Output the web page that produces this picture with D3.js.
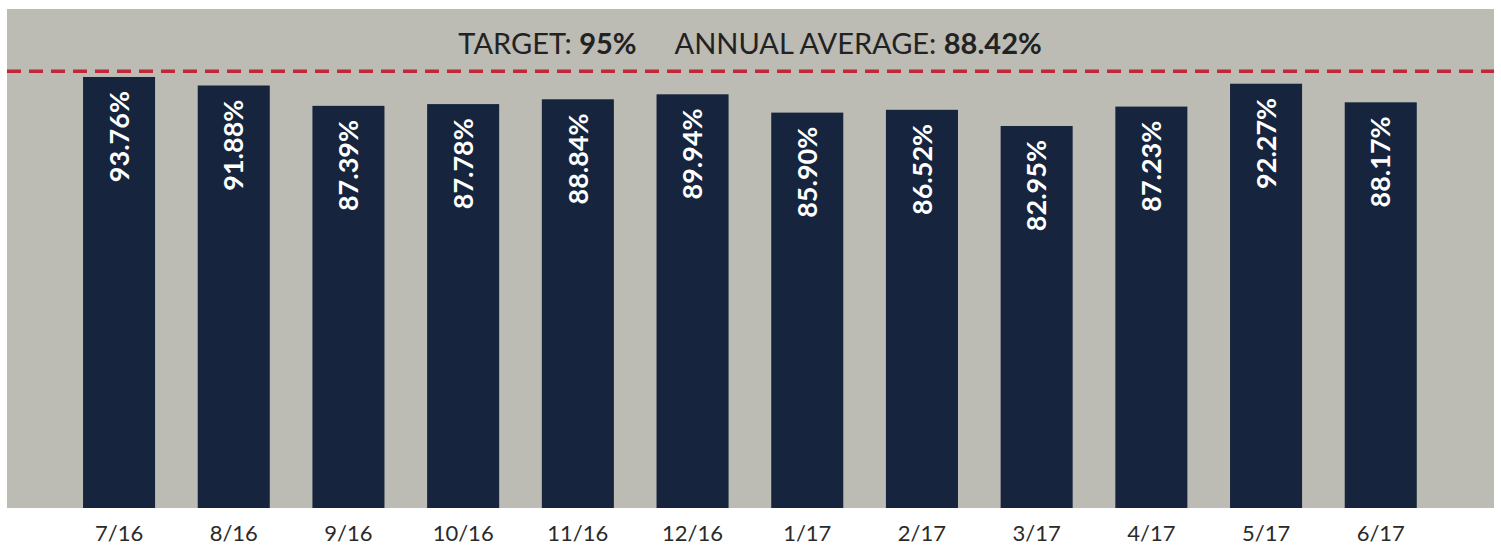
<!DOCTYPE html>
<html>
<head>
<meta charset="utf-8">
<script src="https://cdn.jsdelivr.net/npm/d3@7/dist/d3.min.js"></script>
<style>
  body { margin: 0; background: #fff; }
  svg { display: block; }
</style>
</head>
<body>
<div id="chart"></div>
<script>
const months = ['7/16', '8/16', '9/16', '10/16', '11/16', '12/16', '1/17', '2/17', '3/17', '4/17', '5/17', '6/17'];
const scores = [93.76, 91.88, 87.39, 87.78, 88.84, 89.94, 85.90, 86.52, 82.95, 87.23, 92.27, 88.17];
const target = 95;
const annualAverage = 88.42;

const width = 1501;
const height = 546;

const panel = { left: 7, right: 1494, top: 9, bottom: 508 };

const svg = d3.select('#chart')
    .append('svg')
    .attr('width', width)
    .attr('height', height);

// gray panel behind the bars
svg.append('rect')
    .attr('x', panel.left)
    .attr('y', panel.top)
    .attr('width', panel.right - panel.left)
    .attr('height', panel.bottom - panel.top)
    .attr('fill', '#bcbbb4');

const x = d3.scaleBand()
    .domain(months)
    .range([61.7, 61.7 + 12 * 114.7])
    .paddingInner(0.372)
    .paddingOuter(0.186);

const y = d3.scaleLinear()
    .domain([0, 100])
    .range([502, 48.7]);

const bars = svg.append('g');

bars.selectAll('rect')
    .data(scores)
    .enter()
    .append('rect')
    .attr('x', (d, i) => x(months[i]))
    .attr('y', (d) => y(d))
    .attr('width', x.bandwidth())
    .attr('height', (d) => panel.bottom - y(d))
    .attr('fill', '#16253d');

bars.selectAll('text')
    .data(scores)
    .enter()
    .append('text')
    .attr('transform', (d, i) => `translate(${x(months[i]) + x.bandwidth() / 2}, ${y(d) + 14}) rotate(-90)`)
    .attr('dy', '0.36em')
    .attr('text-anchor', 'end')
    .attr('fill', '#fff')
    .style('font-family', 'Lato, "Open Sans", sans-serif')
    .style('font-weight', 'bold')
    .style('font-size', '27px')
    .text((d) => d.toFixed(2) + '%');

// target line
svg.append('line')
    .attr('x1', panel.left)
    .attr('x2', panel.right)
    .attr('y1', y(target))
    .attr('y2', y(target))
    .attr('stroke', '#c0283a')
    .attr('stroke-width', 3.5)
    .attr('stroke-dasharray', '14,8');

// x labels
svg.append('g')
    .selectAll('text')
    .data(months)
    .enter()
    .append('text')
    .attr('x', (d) => x(d) + x.bandwidth() / 2)
    .attr('y', 541)
    .attr('text-anchor', 'middle')
    .attr('fill', '#2a2a2a')
    .style('font-family', 'Lato, "Open Sans", sans-serif')
    .style('font-size', '22px')
    .text((d) => d);

// header
const header = svg.append('text')
    .attr('x', 750)
    .attr('y', 54)
    .attr('text-anchor', 'middle')
    .attr('fill', '#222')
    .style('font-family', 'Lato, "Open Sans", sans-serif')
    .style('font-size', '29px');

header.append('tspan').text('TARGET: ');
header.append('tspan').style('font-weight', 'bold').text(target + '%');
header.append('tspan').attr('dx', 38).text('ANNUAL AVERAGE: ');
header.append('tspan').style('font-weight', 'bold').text(annualAverage.toFixed(2) + '%');
</script>
</body>
</html>
